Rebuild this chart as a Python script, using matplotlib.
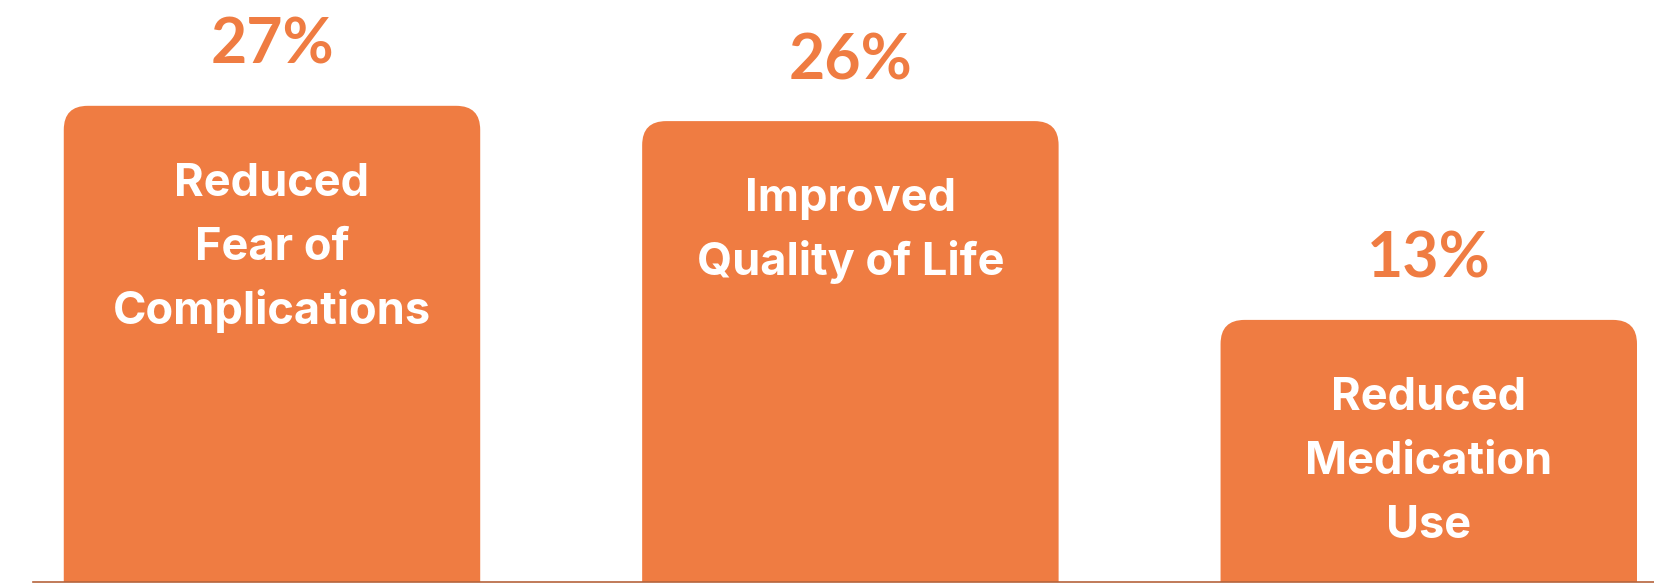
import matplotlib
matplotlib.use("Agg")
import matplotlib.pyplot as plt
from matplotlib.patches import FancyBboxPatch

# Survey results: share of respondents reporting each benefit
categories = ["Reduced\nFear of\nComplications",
              "Improved\nQuality of Life",
              "Reduced\nMedication\nUse"]
values = [27, 26, 13]
value_labels = ["27%", "26%", "13%"]

BAR_COLOR = "#EF7C42"
BASE_COLOR = "#B5643C"
NUM_FONT = "Lato"
CAT_FONT = "Inter"

W, H, DPI = 1654, 583, 100
fig = plt.figure(figsize=(W / DPI, H / DPI), dpi=DPI)
fig.patch.set_facecolor("white")

ax = fig.add_axes([33 / W, 1 / H, 1 - 33 / W, 1 - 1 / H])
ax.set_xlim(-0.4132, 2.3894)
ymin, ymax = -4.14, 33.92
ax.set_ylim(ymin, ymax)
ax.set_facecolor("white")
for side in ["top", "right", "left"]:
    ax.spines[side].set_visible(False)
ax.spines["bottom"].set_color(BASE_COLOR)
ax.spines["bottom"].set_linewidth(1.2)
ax.spines["bottom"].set_zorder(5)
ax.set_xticks([])
ax.set_yticks([])

# data units per pixel along each axis, for round corners that stay circular
fig.canvas.draw()
(x0, y0), (x1, y1) = ax.transData.transform([(0, 0), (1, 1)])
xu_per_px = 1 / (x1 - x0)
yu_per_px = 1 / (y1 - y0)
aspect = yu_per_px / xu_per_px

bar_width = 0.72
radius_px = 24
px_to_pt = 72 / DPI

for i, (cat, val, lab) in enumerate(zip(categories, values, value_labels)):
    bottom = ymin - 3
    patch = FancyBboxPatch(
        (i - bar_width / 2, bottom), bar_width, val - bottom,
        boxstyle=f"round,pad=0,rounding_size={radius_px * xu_per_px}",
        mutation_aspect=aspect,
        facecolor=BAR_COLOR, edgecolor="none", zorder=2, clip_on=True,
    )
    ax.add_patch(patch)

    ax.annotate(lab, xy=(i, val), xytext=(0, 42 * px_to_pt),
                textcoords="offset points", ha="center", va="baseline",
                fontsize=45, fontweight="bold", family=NUM_FONT,
                color=BAR_COLOR, zorder=3)

    for j, line in enumerate(cat.split("\n")):
        ax.annotate(line, xy=(i, val),
                    xytext=(0, -(90 + 64 * j) * px_to_pt),
                    textcoords="offset points", ha="center", va="baseline",
                    fontsize=32.5, fontweight="bold", family=CAT_FONT,
                    color="white", zorder=3)

fig.savefig("out.png", dpi=DPI, facecolor="white")
